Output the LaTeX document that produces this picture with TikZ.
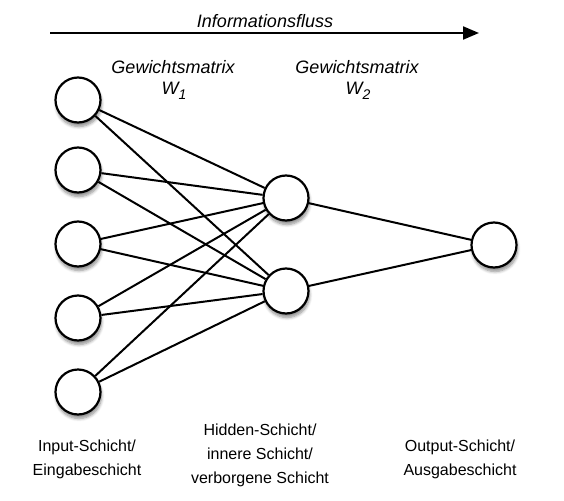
\documentclass[tikz,border=0pt]{standalone}
\usepackage{fontspec}
\setmainfont{Liberation Sans}
\usetikzlibrary{arrows.meta,shadows.blur}
\begin{document}
\begin{tikzpicture}[x=1pt,y=-1pt,
  neuron/.style={circle,draw=black,line width=2.2pt,fill=white,minimum size=45pt,inner sep=0pt,
    blur shadow={shadow xshift=1pt,shadow yshift=-4pt,shadow blur steps=6,shadow opacity=45,shadow blur radius=3pt}},
  conn/.style={line width=2pt,black},
  lbl/.style={font=\fontsize{16}{24}\selectfont,align=center},
  ilbl/.style={font=\fontsize{18}{24}\selectfont\itshape,align=center}]
\useasboundingbox (0,0) rectangle (564,500);
% flow arrow
\coordinate (fa) at (50,33);
\coordinate (fb) at (479,33);
\draw[line width=2pt,-{Triangle[length=16pt,width=13pt]}] (fa) -- (fb);
\node[ilbl] (flow) at (265,21) {Informationsfluss};
\node[ilbl] (gm1) at (173,67) {Gewichtsmatrix};
\node[ilbl] (w1) at (174,91) {W\raisebox{-5pt}{\fontsize{14}{14}\selectfont 1}};
\node[ilbl] (gm2) at (357,67) {Gewichtsmatrix};
\node[ilbl] (w2) at (358,91) {W\raisebox{-5pt}{\fontsize{14}{14}\selectfont 2}};
% neurons
\node[neuron] (i1) at (78,100) {};
\node[neuron] (i2) at (78,170) {};
\node[neuron] (i3) at (78,244) {};
\node[neuron] (i4) at (78,318) {};
\node[neuron] (i5) at (78,392) {};
\node[neuron] (h1) at (286,198) {};
\node[neuron] (h2) at (286,291) {};
\node[neuron] (o1) at (494,245) {};
% connections
\foreach \i in {1,...,5}{
  \foreach \h in {1,2}{
    \draw[conn] (i\i) -- (h\h);
  }
}
\draw[conn] (h1) -- (o1);
\draw[conn] (h2) -- (o1);
% labels
\node[lbl] (lin) at (87,459) {Input-Schicht/\\Eingabeschicht};
\node[lbl] (lhid) at (260,455) {Hidden-Schicht/\\innere Schicht/\\verborgene Schicht};
\node[lbl] (lout) at (460,459) {Output-Schicht/\\Ausgabeschicht};
\end{tikzpicture}
\end{document}
